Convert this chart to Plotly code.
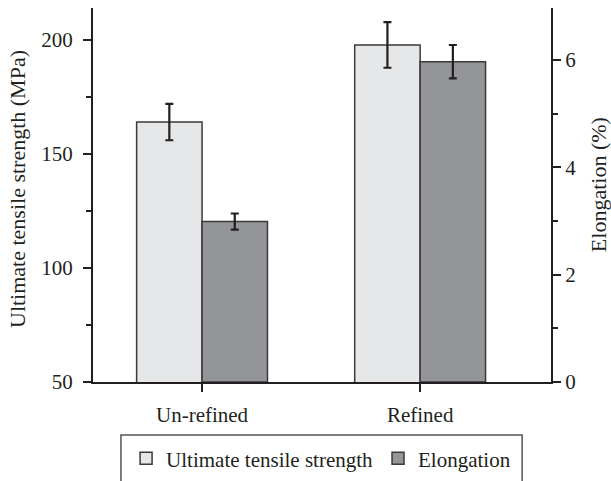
import plotly.graph_objects as go

categories = ["Un-refined", "Refined"]
uts_values = [164, 197.8]
uts_errors = [8, 10]
elong_values = [2.99, 5.97]
elong_errors = [0.15, 0.31]

FONT = "Liberation Serif"
INK = "#231f20"

fig = go.Figure()
fig.add_trace(go.Bar(
    x=categories, y=uts_values, name="Ultimate tensile strength",
    marker=dict(color="#e6e7e8", line=dict(color="#3a3a3a", width=1.5)),
    error_y=dict(type="data", array=uts_errors, color=INK, thickness=2.2, width=4),
    offsetgroup="a", yaxis="y",
))
fig.add_trace(go.Bar(
    x=categories, y=elong_values, name="Elongation",
    marker=dict(color="#939598", line=dict(color="#3a3a3a", width=1.5)),
    error_y=dict(type="data", array=elong_errors, color=INK, thickness=2.2, width=4),
    offsetgroup="b", yaxis="y2",
))

fig.update_layout(
    width=611, height=481,
    margin=dict(l=93, r=60, t=8, b=99, autoexpand=False),
    paper_bgcolor="white", plot_bgcolor="white",
    font=dict(family=FONT, size=21, color=INK),
    barmode="group", bargap=0.4, bargroupgap=0,
    showlegend=True,
    legend=dict(orientation="h", x=0.498, xanchor="center", y=-0.205, yanchor="middle",
                font=dict(family=FONT, size=21, color=INK), bgcolor="rgba(0,0,0,0)",
                itemwidth=30, traceorder="normal"),
    xaxis=dict(range=[-0.5, 1.6], showline=True, linecolor=INK, linewidth=2,
               ticks="outside", ticklen=8, tickwidth=2, tickcolor=INK,
               showgrid=False, zeroline=False, tickfont=dict(family=FONT, size=21),
               ticklabelstandoff=5),
    yaxis=dict(range=[50, 214], showline=True, linecolor=INK, linewidth=2,
               ticks="outside", ticklen=8, tickwidth=2, tickcolor=INK,
               tick0=50, dtick=50, showgrid=False, zeroline=False,
               tickfont=dict(family=FONT, size=21),
               minor=dict(ticks="outside", ticklen=5, tickwidth=2, tickcolor=INK, dtick=25, tick0=50, showgrid=False),
               ticklabelstandoff=6),
    yaxis2=dict(range=[0, 6.97], overlaying="y", side="right", showline=True, linecolor=INK, linewidth=2,
                ticks="outside", ticklen=8, tickwidth=2, tickcolor=INK,
                tick0=0, dtick=2, showgrid=False, zeroline=False,
                tickfont=dict(family=FONT, size=21),
                minor=dict(ticks="outside", ticklen=5, tickwidth=2, tickcolor=INK, dtick=1, tick0=0, showgrid=False),
                ticklabelstandoff=0),
    annotations=[
        dict(text="Ultimate tensile strength (MPa)", xref="paper", yref="paper",
             x=-0.166, y=0.516, textangle=-90, showarrow=False, xanchor="center", yanchor="middle",
             font=dict(family=FONT, size=22, color=INK)),
        dict(text="Elongation (%)", xref="paper", yref="paper",
             x=1.104, y=0.528, textangle=-90, showarrow=False, xanchor="center", yanchor="middle",
             font=dict(family=FONT, size=22, color=INK)),
    ],
    shapes=[
        dict(type="rect", xref="paper", yref="paper", x0=0.061, x1=0.937, y0=-0.142, y1=-0.5,
             line=dict(color="#555", width=1.5), fillcolor="rgba(0,0,0,0)", layer="below"),
    ],
)

fig.write_html("out.html")
